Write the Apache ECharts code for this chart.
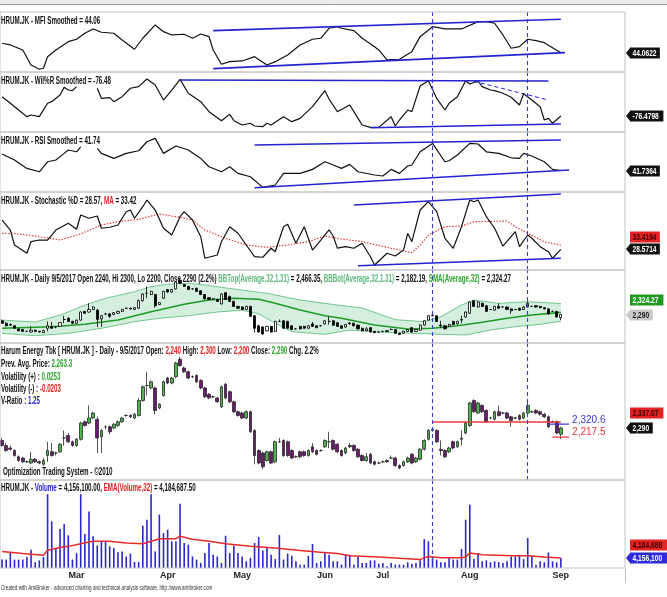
<!DOCTYPE html>
<html>
<head>
<meta charset="utf-8">
<title>HRUM.JK</title>
<script src="https://cdn.jsdelivr.net/npm/echarts/dist/echarts.min.js"></script>
<style>
html, body { margin: 0; padding: 0; background: #fff; }
#chart { width: 667px; height: 597px; }
</style>
</head>
<body>
<div id="chart"></div>
<script>
var chart = echarts.init(document.getElementById('chart'));
var SANS = "'Liberation Sans', Arial, sans-serif";
var BOLD11 = 'bold 11px ' + SANS;
var RED = '#e3201b', GREEN = '#2ea62e', BLUE = '#2323cc', LGREEN = '#5cb87a';

// daily bars, [open, close, low, high]
var ohlc = [
    [2190,2150,2140,2210],[2150,2110,2100,2170],[2130,2120,2110,2150],[2110,2070,2060,2120],[2060,2030,2020,2070],
    [2050,2020,2010,2060],[2020,2020,2010,2030],[2010,2040,2000,2100],[2040,2020,2010,2050],[2020,2010,2000,2030],
    [2000,2030,1990,2050],[2070,2110,2020,2180],[2100,2070,2060,2170],[2090,2090,2070,2100],[2100,2160,2090,2170],
    [2210,2210,2150,2270],[2230,2180,2170,2250],[2180,2150,2140,2190],[2150,2200,2140,2210],[2200,2330,2190,2340],
    [2340,2310,2300,2350],[2330,2370,2320,2470],[2370,2410,2360,2420],[2360,2210,2090,2380],[2220,2270,2090,2280],
    [2300,2300,2280,2310],[2300,2260,2240,2310],[2290,2320,2280,2330],[2310,2340,2300,2350],[2340,2370,2330,2380],
    [2390,2390,2380,2400],[2390,2380,2370,2400],[2370,2400,2360,2410],[2390,2510,2380,2530],[2510,2620,2500,2630],
    [2630,2630,2550,2740],[2610,2660,2600,2670],[2610,2430,2400,2620],[2450,2480,2440,2490],[2550,2660,2540,2670],
    [2690,2650,2640,2700],[2650,2690,2640,2700],[2700,2810,2690,2820],[2840,2790,2780,2860],[2770,2740,2730,2780],
    [2740,2690,2680,2750],[2700,2700,2690,2710],[2710,2660,2650,2720],[2670,2610,2600,2680],[2610,2540,2530,2620],
    [2560,2530,2520,2570],[2540,2540,2530,2550],[2530,2500,2490,2540],[2460,2620,2450,2630],[2640,2530,2520,2650],
    [2580,2500,2490,2590],[2500,2420,2410,2510],[2420,2390,2380,2430],[2410,2370,2360,2420],[2370,2420,2360,2430],
    [2420,2260,2250,2430],[2270,2070,2000,2280],[2110,2010,2000,2120],[2090,1980,1960,2100],[2030,2100,2020,2110],
    [2100,2010,2000,2110],[2020,2180,2010,2190],[2180,2180,2170,2210],[2190,2070,2060,2200],[2180,2070,2060,2190],
    [2110,2050,2040,2120],[2060,2060,2050,2070],[2100,2060,2050,2110],[2100,2070,2060,2110],[2070,2110,2060,2120],
    [2140,2100,2090,2170],[2110,2080,2070,2120],[2110,2110,2100,2120],[2140,2190,2130,2200],[2180,2180,2130,2260],
    [2190,2120,2110,2200],[2160,2100,2090,2170],[2110,2070,2060,2120],[2090,2130,2080,2140],[2150,2140,2130,2170],
    [2150,2110,2100,2160],[2120,2060,2050,2130],[2070,2030,2020,2080],[2030,2060,2020,2090],[2080,2010,2000,2090],
    [2020,2000,1990,2030],[2010,2010,2000,2020],[2020,2020,2010,2030],[2030,2020,2010,2040],[2050,2050,2040,2070],
    [2050,1990,1980,2060],[1990,1970,1960,2000],[1990,2020,1980,2030],[2020,2050,2010,2060],[2080,2010,2000,2090],
    [2020,2050,2010,2060],[2040,2120,2030,2130],[2120,2190,2110,2200],[2200,2270,2190,2280],[2270,2280,2260,2290],
    [2270,2180,2170,2280],[2120,2110,2070,2190],[2110,2060,2050,2120],[2100,2130,2090,2140],[2180,2130,2120,2190],
    [2140,2180,2130,2190],[2200,2210,2150,2270],[2250,2330,2240,2340],[2310,2490,2300,2500],[2510,2420,2410,2520],
    [2410,2490,2400,2500],[2470,2420,2410,2480],[2430,2340,2330,2440],[2370,2370,2360,2380],[2360,2420,2350,2430],
    [2420,2390,2380,2470],[2410,2410,2400,2420],[2410,2370,2360,2420],[2380,2350,2300,2390],[2370,2370,2360,2380],
    [2390,2360,2350,2400],[2370,2410,2360,2420],[2410,2470,2400,2500],[2420,2420,2410,2430],[2430,2410,2400,2440],
    [2420,2400,2390,2430],[2400,2380,2370,2410],[2380,2300,2290,2390],[2340,2340,2330,2350],[2340,2250,2240,2350],
    [2240,2290,2200,2300]
];

// volume, millions of shares
var volume = [
    3.5,3.5,6.5,3.5,3.5,3.5,4.6,7.6,2.4,3.2, 4.6,30.7,19.4,8.3,16.2,18.3,13.6,3.5,6.2,30.7,
    14.1,23.5,13.2,9.4,11.1,11.1,9.0,8.3,6.5,6.9, 4.8,6.0,2.5,2.5,17.6,20.1,30.7,6.9,22.2,14.5,
    15.9,11.1,11.1,26.7,10.4,9.7,4.8,3.5,2.1,6.2, 10.4,5.5,4.8,2.1,13.4,6.2,9.4,6.2,4.8,2.8,
    4.2,10.4,12.9,7.3,8.3,5.5,3.7,13.7,3.5,6.0, 5.1,2.8,1.4,1.4,5.1,10.0,2.1,2.8,6.2,5.5,
    2.8,2.8,1.4,5.5,5.5,1.4,4.6,2.1,2.1,3.2, 3.2,1.8,2.1,0.7,2.1,1.4,1.4,1.4,2.4,1.8,
    2.1,3.2,12.0,11.1,4.8,3.5,2.4,2.4,4.2,3.5, 3.5,7.9,20.1,26.3,3.7,6.2,2.8,3.2,2.4,2.8,
    2.4,2.1,2.8,4.8,4.8,5.5,3.7,12.5,5.1,1.4, 2.8,2.4,6.5,2.8,2.4,4.156
];
var volumeEma = [[0,6.9],[5,6.0],[10,5.3],[11,7.4],[14,8.5],[16,9.0],[19,10.1],[22,11.1],[26,11.1],[30,10.4],
    [34,10.1],[36,11.1],[38,12.2],[42,12.2],[43,13.2],[46,12.0],[50,11.1],[54,10.1],[60,9.0],[66,8.3],
    [72,7.3],[77,6.5],[81,6.0],[84,5.1],[91,4.6],[101,3.5],[102,4.2],[103,4.8],[106,4.3],[111,4.3],
    [112,4.6],[113,6.2],[116,5.5],[123,5.1],[127,5.1],[131,4.6],[135,4.18]];

// bollinger bands and average
var bbTop = [[0,2200],[8,2170],[14,2280],[20,2440],[25,2550],[32,2655],[36,2735],[40,2775],[45,2790],[49,2762],
    [56,2698],[64,2629],[72,2522],[80,2450],[87,2394],[95,2207],[102,2175],[106,2255],[111,2442],[114,2522],
    [120,2469],[127,2495],[135,2466]];
var bbBot = [[0,1989],[8,1951],[16,1989],[24,2069],[32,2175],[38,2230],[45,2270],[52,2330],[58,2360],[62,2300],
    [66,2150],[70,2015],[78,1973],[84,2042],[92,2005],[100,1989],[106,1973],[112,1962],[118,2042],[124,2095],
    [130,2133],[135,2182]];
var bbSma = [[0,2069],[12,2095],[20,2133],[28,2202],[36,2335],[44,2453],[50,2522],[56,2549],[62,2533],[66,2469],
    [72,2362],[78,2271],[82,2229],[90,2122],[98,2058],[104,2069],[110,2111],[116,2165],[122,2229],[128,2282],
    [135,2324]];

// oscillators
var mfi = [[0,53.5],[2,51.8],[5,46.8],[7,31.8],[9,27.5],[10,28.5],[11,40.1],[13,46.8],[16,55.1],[18,57.5],
    [20,63.5],[22,67.8],[24,64.5],[27,63.5],[29,56.8],[32,47.5],[34,58.5],[37,71.8],[39,65.1],[41,61.8],
    [44,62.5],[46,58.5],[48,62.8],[50,60.1],[51,46.8],[53,32.5],[55,35.1],[58,35.8],[61,40.1],[64,31.8],
    [66,35.1],[69,41.8],[72,51.8],[75,57.5],[77,58.5],[79,68.5],[81,70.1],[82,68.5],[85,66.1],[87,58.5],
    [90,50.1],[91,46.8],[93,36.8],[96,37.5],[99,45.1],[101,60.1],[104,70.1],[107,67.8],[111,67.8],[115,75.1],
    [117,75.1],[119,73.5],[121,61.8],[123,48.5],[125,50.1],[127,57.5],[129,56.1],[131,54.1],[135,44.06]];
var willR = [[0,-47.5],[2,-57.4],[4,-67.5],[6,-77.5],[7,-75],[9,-77.5],[11,-57.4],[12,-55],[14,-45],[15,-33.5],
    [16,-37.5],[17,-38.5],[18,-32.5],[20,'-'],[23,-34.9],[24,-49.9],[26,-49],[27,-55],[29,-47.5],[31,-34.9],
    [33,-32.5],[35,-21],[37,-30],[39,-52.5],[41,-37.5],[43,-21.5],[45,-42.4],[48,-55],[50,-70],[53,-83.5],
    [55,-73.9],[56,-83.5],[58,-90],[60,-87.4],[61,-91.5],[63,-92.5],[64,-87.4],[65,-90],[68,-77.5],[70,-85],
    [72,-80],[75,-62.5],[78,-38.5],[79,-51],[81,-70],[84,-60],[86,-80],[87,-90],[89,-93.5],[91,-93.5],
    [94,-77.5],[95,-91.5],[96,-82.5],[98,-67.5],[99,-70],[101,-31.5],[103,-23.5],[105,-49.9],[107,-67.5],[108,-57.4],
    [110,-47.5],[112,-23.5],[113,-28.5],[115,-24],[116,-32.5],[118,-37.5],[119,-38.5],[121,-42.4],[123,-48.4],[125,-60],
    [126,-43],[128,-52.5],[130,-62.5],[131,-82.5],[132,-80],[133,-87.4],[135,-76.48]];
var rsi = [[0,50],[3,47],[6,42.8],[9,41.1],[11,46.1],[13,47],[15,50.3],[16,52],[18,51.1],[19,53.6],
    [21,'-'],[23,52.8],[24,50.3],[27,47.8],[30,50.3],[33,51.6],[35,56.1],[37,57.8],[39,50.3],[42,54],
    [45,52],[48,47.8],[50,43.6],[53,41.1],[55,43.6],[57,40.3],[60,38.6],[63,33.3],[66,34.5],[68,40.3],
    [72,40.3],[75,42.3],[78,46.1],[80,44.5],[82,42.8],[84,44.8],[86,41.1],[90,39.5],[92,39],[94,42.3],
    [96,40.3],[98,44],[99,44.5],[101,51.1],[104,55.3],[107,46.1],[108,46.6],[110,49.5],[113,55.3],[115,55],
    [117,51.1],[120,50.3],[123,48.1],[125,47.8],[126,50.3],[128,49],[131,46.1],[133,42.3],[135,41.74]];
var stochD = [[0,63.7],[2,51.7],[3,33.7],[6,23.8],[7,37.7],[9,39.7],[11,39.7],[13,51.7],[16,59.8],[18,52.6],
    [19,69.7],[21,65.8],[23,68.5],[24,53.8],[26,55],[28,57.7],[30,73.7],[31,75.7],[32,65.8],[34,79.7],
    [35,87.7],[37,75.7],[39,53.8],[41,45.7],[43,67.7],[44,73.7],[46,63.7],[48,43.7],[49,17.8],[52,21.7],
    [53,37.7],[55,55.7],[57,47.8],[59,33.7],[61,19.7],[63,19],[65,29.8],[66,25.7],[68,55.7],[69,58.6],
    [71,35.8],[73,55.7],[75,27.7],[77,39.7],[79,52],[80,44.5],[81,30],[83,31.7],[85,29.8],[87,35.8],
    [89,19.7],[90,9.7],[93,23.8],[95,20.5],[97,27.7],[98,47.8],[99,37.7],[101,75.7],[103,85.7],[105,73.7],
    [107,41.8],[109,29.8],[111,55.7],[113,87.7],[114,85.7],[115,87.7],[117,67.7],[119,53.8],[121,32.5],[124,49.7],
    [125,31.7],[127,45.7],[128,41.8],[130,31.7],[132,25.7],[133,17.8],[135,28.57]];
var stochMa = [[0,47.8],[4,47],[9,43.7],[14,39.7],[19,47],[24,57.7],[28,61.7],[33,64.6],[38,70.9],[43,67],
    [46,63.7],[49,51.7],[54,41.8],[59,33.7],[64,31],[69,33.7],[74,37.7],[78,44.5],[82,41],[87,37.7],
    [94,29.8],[99,24.5],[101,33.7],[103,45.7],[107,55.7],[111,56.5],[114,61.7],[122,62.5],[124,55.7],[127,47.8],
    [131,37.7],[135,33.42]];

// hand drawn trend lines, [[bar, value], [bar, value]]
var mfiTrends = [[[51,66.1],[135,77.5]], [[51,28.1],[136,44.1]]];
var willRTrends = [[[43,-22.5],[132,-24]], [[89,-94],[135,-88.5]]];
var willRDashed = [[[114,-24.4],[132,-52.5]]];
var rsiTrends = [[[61,54.5],[135,57]], [[61,33.1],[137,42]]];
var stochTrends = [[[85,81.7],[135,94.9]], [[86,8.9],[135,17.8]]];
var resistance = [[104,2337.07],[135,2337.07]];
var upperTarget = [[132,2320.6],[137,2320.6]];
var lowerTarget = [[133,2217.5],[137,2217.5]];

// last-value tags on the right: [panel, value, text, fill, text colour, nudge, arrow]
var lastTags = [
    [0, 44.06, '44.0622', '#111', '#fff', 0, true],
    [1, -76.48, '-76.4798', '#111', '#fff', 0, true],
    [2, 41.74, '41.7364', '#111', '#fff', 0, true],
    [3, 33.42, '33.4194', '#e52222', '#3a0000', -8, false],
    [3, 28.57, '28.5714', '#111', '#fff', 0, true],
    [4, 2324.27, '2,324.27', '#1c9a1c', '#fff', -12, false],
    [4, 2290, '2,290', '#c9c9c9', '#222', 0, true],
    [5, 2337.07, '2,337.07', '#e52222', '#3a0000', -9, false],
    [5, 2290, '2,290', '#111', '#fff', 0, true],
    [6, 4.1847, '4,184,688', '#e52222', '#3a0000', -13, false],
    [6, 4.1561, '4,156,100', '#2a2ad8', '#fff', 0, true]
];

var markerBars = [104, 127];
var monthLabels = {18:'Mar', 40:'Apr', 58:'May', 78:'Jun', 92:'Jul', 113:'Aug', 135:'Sep'};
var nSlots = 151;
var slots = [];
for (var i = 0; i < nSlots; i++) slots.push(i);

var panels = [
    {top: 12, height: 60, min: 24.76, max: 84.76},
    {top: 72, height: 60, min: -100.48, max: -10.48},
    {top: 132, height: 60, min: 30.99, max: 60.99},
    {top: 192, height: 78, min: 3.73, max: 97.33},
    {top: 270, height: 73, min: 1834, max: 3002},
    {top: 343, height: 137, min: 1874, max: 2970},
    {top: 480, height: 88, min: 0, max: 36.6}
];

function marks(gi) {
    var data = [];
    markerBars.forEach(function (b, k) {
        if (gi <= 5 || k === 0) data.push({xAxis: b});
    });
    return {
        silent: true, symbol: 'none', animation: false,
        lineStyle: {color: '#3a3ad6', type: [4, 3], width: 1.1},
        label: {show: false},
        data: data
    };
}

function osc(gi, data, extra) {
    var s = {
        type: 'line', xAxisIndex: gi, yAxisIndex: gi, data: data, symbol: 'none',
        lineStyle: {color: '#111', width: 1.2}, z: 3, markLine: marks(gi)
    };
    for (var k in extra) s[k] = extra[k];
    return s;
}

function trend(gi, coords, dashed) {
    return {
        type: 'line', xAxisIndex: gi, yAxisIndex: gi, data: coords, symbol: 'none', silent: true,
        lineStyle: {color: '#2424d2', width: dashed ? 1 : 1.6, type: dashed ? [4, 3] : 'solid'}, z: 4
    };
}

var series = [];
series.push(osc(0, mfi));
mfiTrends.forEach(function (c) { series.push(trend(0, c)); });

series.push(osc(1, willR));
willRTrends.forEach(function (c) { series.push(trend(1, c)); });
willRDashed.forEach(function (c) { series.push(trend(1, c, true)); });

series.push(osc(2, rsi));
rsiTrends.forEach(function (c) { series.push(trend(2, c)); });

series.push(osc(3, stochMa, {lineStyle: {color: '#e52b2b', width: 1.1, type: [1.5, 1.5]}, markLine: undefined}));
series.push(osc(3, stochD));
stochTrends.forEach(function (c) { series.push(trend(3, c)); });

series.push({type: 'line', xAxisIndex: 4, yAxisIndex: 4, data: bbTop, symbol: 'none', z: 1,
    lineStyle: {color: '#72c690', width: 1}, areaStyle: {color: '#d4efdd', opacity: 1}});
series.push({type: 'line', xAxisIndex: 4, yAxisIndex: 4, data: bbBot, symbol: 'none', z: 1,
    lineStyle: {color: '#72c690', width: 1}, areaStyle: {color: '#ffffff', opacity: 1}});
series.push({type: 'line', xAxisIndex: 4, yAxisIndex: 4, data: bbSma, symbol: 'none', z: 2,
    lineStyle: {color: '#1f9a2a', width: 1.6}, markLine: marks(4)});
series.push({type: 'candlestick', xAxisIndex: 4, yAxisIndex: 4, data: ohlc, barWidth: 2.6, z: 3,
    itemStyle: {color: '#fff', color0: '#000', borderColor: '#000', borderColor0: '#000', borderWidth: 0.8}});

series.push({type: 'candlestick', xAxisIndex: 5, yAxisIndex: 5, data: ohlc, barWidth: 3.2, z: 3,
    itemStyle: {color: '#4fb34f', color0: '#6b1b6b', borderColor: '#2a2a2a', borderColor0: '#2a2a2a', borderWidth: 0.8},
    markLine: marks(5)});
series.push({type: 'line', xAxisIndex: 5, yAxisIndex: 5, data: resistance, symbol: 'none', silent: true, z: 4,
    lineStyle: {color: '#e83a3a', width: 1.5}});
series.push({type: 'line', xAxisIndex: 5, yAxisIndex: 5, data: upperTarget, symbol: 'none', silent: true, z: 4,
    lineStyle: {color: '#3a3ad6', width: 1.3},
    endLabel: {show: true, formatter: '2,320.6', color: '#3a3ad6', fontSize: 10, fontFamily: SANS, distance: 3, offset: [0, -4]}});
series.push({type: 'line', xAxisIndex: 5, yAxisIndex: 5, data: lowerTarget, symbol: 'none', silent: true, z: 4,
    lineStyle: {color: '#e83a3a', width: 1.3},
    endLabel: {show: true, formatter: '2,217.5', color: '#e83a3a', fontSize: 10, fontFamily: SANS, distance: 3, offset: [0, -5]}});

series.push({type: 'bar', xAxisIndex: 6, yAxisIndex: 6, data: volume, barWidth: 1.6, z: 2,
    itemStyle: {color: '#2828cc'}});
series.push({type: 'line', xAxisIndex: 6, yAxisIndex: 6, data: volumeEma, symbol: 'none', z: 3,
    lineStyle: {color: '#e82a2a', width: 1.5}, markLine: marks(6)});

// condensed caption text
var RICH = {
    r: {fill: RED, font: BOLD11},
    g: {fill: GREEN, font: BOLD11},
    lg: {fill: LGREEN, font: BOLD11},
    b: {fill: BLUE, font: BOLD11}
};
function caption(x, y, text, font, fill, sx) {
    return {
        type: 'text', x: x, y: y, scaleX: sx || 0.565, silent: true, z: 20,
        style: {text: text, font: font || BOLD11, fill: fill || '#111', rich: RICH,
            verticalAlign: 'middle', textVerticalAlign: 'middle'}
    };
}

var baseGraphics = [
    {type: 'rect', shape: {x: 0, y: 0, width: 667, height: 4}, style: {fill: '#ececec'}, silent: true},
    {type: 'line', shape: {x1: 0, y1: 4.5, x2: 667, y2: 4.5}, style: {stroke: '#9a9a9a', lineWidth: 1}, silent: true},
    {type: 'line', shape: {x1: 625.5, y1: 568, x2: 625.5, y2: 582}, style: {stroke: '#c0c0c0', lineWidth: 1}, silent: true},
    caption(1, 20.5, 'HRUM.JK - MFI Smoothed = 44.06'),
    caption(1, 80.5, 'HRUM.JK - Wil%R Smoothed = -76.48'),
    caption(1, 140.5, 'HRUM.JK - RSI Smoothed = 41.74'),
    caption(1, 200.5, 'HRUM.JK - Stochastic %D = 28.57, {r|MA} = 33.42'),
    caption(1, 279, 'HRUM.JK - Daily 9/5/2017 Open 2240, Hi 2300, Lo 2200, Close 2290 (2.2%) {lg|BBTop(Average,32,1.31)} = 2,466.35, {lg|BBBot(Average,32,1.31)} = 2,182.19, {g|SMA(Average,32)} = 2,324.27'),
    caption(1, 351, 'Harum Energy Tbk [ HRUM.JK ] - Daily - 9/5/2017 Open: {r|2,240} High: {r|2,300} Low: {r|2,200} Close: {g|2,290} Chg. 2.2%'),
    caption(1, 364, 'Prev. Avg. Price: {g|2,263.3}'),
    caption(1, 376.5, 'Volatility (+) : {g|0.0253}'),
    caption(1, 389, 'Volatility (-) : {r|-0.0203}'),
    caption(1, 401, 'V-Ratio : {b|1.25}'),
    caption(3, 472, 'Optimization Trading System - \u00a92010'),
    caption(1, 488, 'HRUM.JK - {b|Volume} = 4,156,100.00, {r|EMA(Volume,32)} = 4,184,687.50'),
    caption(1, 588.5, 'Created with AmiBroker - advanced charting and technical analysis software. http://www.amibroker.com',
        'normal 7px ' + SANS, '#333', 0.66)
];

var option = {
    animation: false,
    backgroundColor: '#fff',
    graphic: baseGraphics,
    grid: panels.map(function (p) {
        return {left: -1, right: 42, top: p.top, height: p.height, show: true, z: 10,
            borderColor: '#c4c4c4', borderWidth: 1, backgroundColor: 'transparent'};
    }),
    xAxis: panels.map(function (p, i) {
        var last = i === panels.length - 1;
        return {
            type: 'category', gridIndex: i, data: slots, boundaryGap: true,
            axisLine: {show: false}, axisTick: {show: false}, splitLine: {show: false},
            axisLabel: last ? {
                show: true, margin: 3, color: '#222', fontFamily: SANS, fontSize: 9, fontWeight: 'bold',
                interval: function (idx) { return monthLabels[idx] !== undefined; },
                formatter: function (v, idx) { return monthLabels[idx] || ''; }
            } : {show: false}
        };
    }),
    yAxis: panels.map(function (p, i) {
        return {type: 'value', gridIndex: i, min: p.min, max: p.max, show: false, splitLine: {show: false}};
    }),
    series: series
};
chart.setOption(option);

// value tags placed through each panel's own y scale
var tagGraphics = lastTags.map(function (t) {
    var y = chart.convertToPixel({gridIndex: t[0]}, [0, t[1]])[1] + t[5];
    var w = t[2].length * 3.55 + 5;
    var kids = [
        {type: 'rect', shape: {x: 4, y: -5.5, width: w, height: 11}, style: {fill: t[3]}},
        {type: 'text', x: 6.5, y: 0.5, scaleX: 0.74,
            style: {text: t[2], font: 'bold 9px ' + SANS, fill: t[4], verticalAlign: 'middle', textVerticalAlign: 'middle'}}
    ];
    if (t[6]) kids.unshift({type: 'polygon', shape: {points: [[0, 0], [4.5, -5.5], [4.5, 5.5]]}, style: {fill: t[3]}});
    return {type: 'group', x: 626, y: Math.round(y), silent: true, z: 20, children: kids};
});
chart.setOption({graphic: baseGraphics.concat(tagGraphics)});
</script>
</body>
</html>
